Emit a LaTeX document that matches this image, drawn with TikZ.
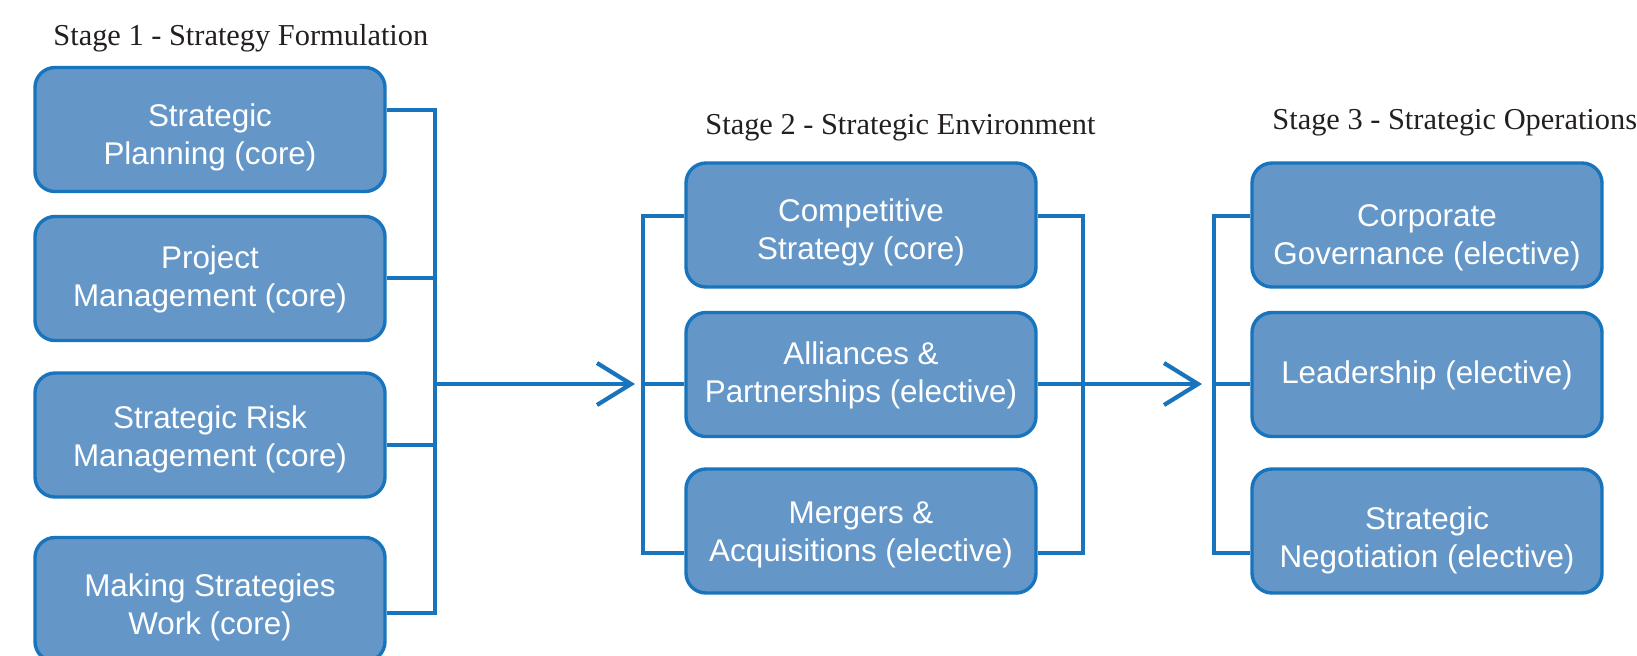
\documentclass[tikz,border=0pt]{standalone}
\usepackage{fontspec}
\setmainfont{Liberation Serif}
\newfontfamily\boxfont{Liberation Sans}
\usetikzlibrary{arrows.meta}
\definecolor{boxfill}{RGB}{100,151,200}
\definecolor{boxline}{RGB}{24,116,188}
\definecolor{labelcol}{RGB}{35,31,32}
\begin{document}
\begin{tikzpicture}[x=0.5pt,y=-0.5pt,
  course/.style={draw=boxline, fill=boxfill, line width=1.7pt, rounded corners=10pt,
    minimum width=175pt, minimum height=62pt, inner sep=0pt},
  ctext/.style={inner sep=0pt, align=center,
    text=white, font=\boxfont\fontsize{15.7}{19}\selectfont},
  stagelabel/.style={anchor=base west, inner sep=0pt, text=labelcol,
    font=\fontsize{15.2}{18}\selectfont},
  conn/.style={draw=boxline, line width=2.1pt, miter limit=10},
  arr/.style={conn, -{Straight Barb[length=17pt,width=21pt,line width=2.1pt]}}]
\useasboundingbox (0,0) rectangle (1637,655);

% stage labels
\node[stagelabel] (l1) at (53,45) {Stage 1 - Strategy Formulation};
\node[stagelabel] (l2) at (705,134) {Stage 2 - Strategic Environment};
\node[stagelabel] (l3) at (1272,129) {Stage 3 - Strategic Operations};

% stage 1
\node[course] (b1) at (210,129.5) {};
\node[course] (b2) at (210,278.5) {};
\node[course] (b3) at (210,435) {};
\node[course] (b4) at (210,599.5) {};
\node[ctext, yshift=-4pt] (t1) at (b1) {Strategic\\Planning (core)};
\node[ctext, yshift=-0.5pt] (t2) at (b2) {Project\\Management (core)};
\node[ctext, yshift=-2pt] (t3) at (b3) {Strategic Risk\\Management (core)};
\node[ctext, yshift=-4pt] (t4) at (b4) {Making Strategies\\Work (core)};

% stage 2
\node[course] (b5) at (861,225) {};
\node[course] (b6) at (861,374.5) {};
\node[course] (b7) at (861,531) {};
\node[ctext, yshift=-3.5pt] (t5) at (b5) {Competitive\\Strategy (core)};
\node[ctext, yshift=-0.5pt] (t6) at (b6) {Alliances \&\\Partnerships (elective)};
\node[ctext, yshift=-2pt] (t7) at (b7) {Mergers \&\\Acquisitions (elective)};

% stage 3
\node[course] (b8) at (1427,225) {};
\node[course] (b9) at (1427,374.5) {};
\node[course] (b10) at (1427,531) {};
\node[ctext, yshift=-6.5pt] (t8) at (b8) {Corporate\\Governance (elective)};
\node[ctext, yshift=-0.5pt] (t9) at (b9) {Leadership (elective)};
\node[ctext, yshift=-4.5pt] (t10) at (b10) {Strategic\\Negotiation (elective)};

% stage 1 bracket
\coordinate (s1t) at (435,110);
\coordinate (s1c2) at (435,278);
\coordinate (s1c3) at (435,445);
\coordinate (s1b) at (435,613);
\coordinate (s1m) at (435,384);
\draw[conn] (b1.east |- s1t) -- (s1t) -- (s1b) -- (b4.east |- s1b);
\draw[conn] (b2.east |- s1c2) -- (s1c2);
\draw[conn] (b3.east |- s1c3) -- (s1c3);

% arrow to stage 2
\coordinate (a1e) at (635,384);
\draw[arr] (s1m) -- (a1e);

% stage 2 brackets
\coordinate (s2lt) at (643,216);
\coordinate (s2lm) at (643,384);
\coordinate (s2lb) at (643,553);
\draw[conn] (b5.west |- s2lt) -- (s2lt) -- (s2lb) -- (b7.west |- s2lb);
\draw[conn] (s2lm) -- (b6.west |- s2lm);
\coordinate (s2rt) at (1083,216);
\coordinate (s2rb) at (1083,553);
\draw[conn] (b5.east |- s2rt) -- (s2rt) -- (s2rb) -- (b7.east |- s2rb);

% arrow to stage 3
\coordinate (a2e) at (1202,384);
\draw[arr] (b6.east |- a2e) -- (a2e);

% stage 3 bracket
\coordinate (s3t) at (1214,216);
\coordinate (s3m) at (1214,384);
\coordinate (s3b) at (1214,553);
\draw[conn] (b8.west |- s3t) -- (s3t) -- (s3b) -- (b10.west |- s3b);
\draw[conn] (s3m) -- (b9.west |- s3m);
\end{tikzpicture}
\end{document}
